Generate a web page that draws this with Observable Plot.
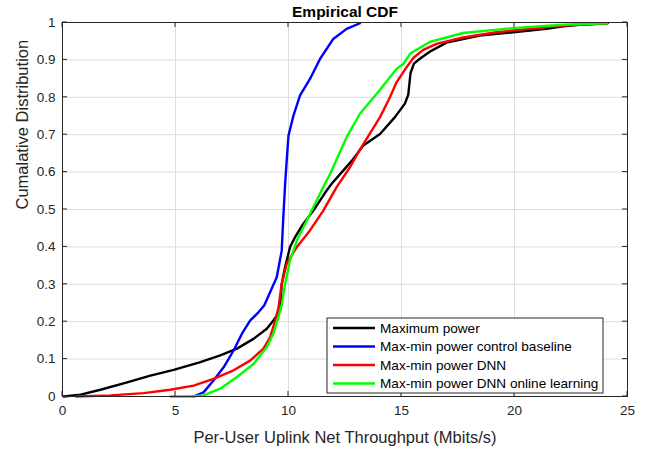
<!DOCTYPE html>
<html>
<head>
<meta charset="utf-8">
<script src="https://cdn.jsdelivr.net/npm/d3@7"></script>
<script src="https://cdn.jsdelivr.net/npm/@observablehq/plot@0.6"></script>
<style>
  html, body { margin: 0; padding: 0; background: #fff; }
  #chart { width: 649px; height: 449px; }
  text { font-family: "Liberation Sans", Arial, Helvetica, sans-serif; }
</style>
</head>
<body>
<div id="chart"></div>
<script>
const seriesNames = [
  "Maximum power",
  "Max-min power control baseline",
  "Max-min power DNN",
  "Max-min power DNN online learning"
];
const seriesColors = ["#000000", "#0000ff", "#ff0000", "#00ff00"];

const xTicks = [0, 5, 10, 15, 20, 25];
const yTicks = [0, 0.1, 0.2, 0.3, 0.4, 0.5, 0.6, 0.7, 0.8, 0.9, 1];

// Maximum power
const blackX = [0.06, 0.8, 1.68, 2.86, 3.89, 4.92, 6.10, 6.98, 7.72, 8.45, 9.04, 9.33, 9.63, 9.70, 9.85, 10.07, 10.29, 10.66, 11.1, 11.69, 11.91, 12.42, 12.8, 13.31, 14.05, 14.71, 15.15, 15.30, 15.40, 15.55, 15.81, 16.25, 16.99, 18.46, 19.93, 21.41, 22.14, 22.88, 24.13];
const blackY = [0, 0.005, 0.018, 0.038, 0.056, 0.071, 0.092, 0.11, 0.128, 0.154, 0.181, 0.203, 0.23, 0.301, 0.346, 0.40, 0.426, 0.462, 0.497, 0.551, 0.569, 0.604, 0.63, 0.671, 0.702, 0.747, 0.783, 0.807, 0.865, 0.89, 0.903, 0.922, 0.946, 0.965, 0.974, 0.983, 0.990, 0.994, 0.998];

// Max-min power control baseline
const blueX = [5.80, 6.24, 6.68, 7.13, 7.57, 7.94, 8.30, 8.67, 8.93, 9.48, 9.70, 9.77, 9.85, 9.92, 10.0, 10.22, 10.51, 10.95, 11.4, 11.98, 12.57, 13.16];
const blueY = [0, 0.011, 0.043, 0.078, 0.123, 0.168, 0.203, 0.225, 0.244, 0.319, 0.39, 0.479, 0.568, 0.630, 0.698, 0.751, 0.805, 0.849, 0.903, 0.956, 0.983, 0.998];

// Max-min power DNN
const redX = [0.6, 2.12, 3.59, 4.77, 5.80, 6.68, 7.57, 8.30, 8.89, 9.19, 9.41, 9.55, 9.70, 9.92, 10.37, 10.95, 11.54, 12.13, 12.72, 13.16, 14.05, 14.49, 14.78, 15.22, 15.52, 15.96, 16.55, 17.72, 19.2, 20.67, 22.14, 24.1];
const redY = [0, 0.003, 0.009, 0.018, 0.029, 0.047, 0.07, 0.096, 0.128, 0.159, 0.203, 0.235, 0.301, 0.355, 0.40, 0.444, 0.497, 0.56, 0.613, 0.66, 0.747, 0.80, 0.84, 0.88, 0.905, 0.927, 0.943, 0.96, 0.974, 0.983, 0.992, 0.998];

// Max-min power DNN online learning
const greenX = [4.77, 5.65, 6.24, 6.98, 7.72, 8.45, 9.04, 9.33, 9.55, 9.70, 9.85, 10.07, 10.37, 10.95, 11.54, 11.84, 12.57, 13.16, 14.05, 14.78, 15.08, 15.40, 16.25, 17.72, 19.93, 22.14, 24.1];
const greenY = [0, 0, 0.003, 0.021, 0.052, 0.087, 0.132, 0.168, 0.212, 0.245, 0.301, 0.364, 0.417, 0.488, 0.56, 0.595, 0.693, 0.756, 0.820, 0.876, 0.889, 0.918, 0.948, 0.972, 0.985, 0.994, 0.998];

const allX = [blackX, blueX, redX, greenX];
const allY = [blackY, blueY, redY, greenY];
const series = allX.map((xs, i) => xs.map((x, j) => ({x, y: allY[i][j], s: seriesNames[i]})));

const W = 649, H = 449;
const mL = 62, mR = 22, mT = 22, mB = 53;

const textColor = "#262626";
const lineMarks = series.map((d, i) => Plot.line(d, {x: "x", y: "y", stroke: seriesColors[i], strokeWidth: 2.4}));

const chart = Plot.plot({
  width: W,
  height: H,
  marginLeft: mL,
  marginRight: mR,
  marginTop: mT,
  marginBottom: mB,
  style: {fontFamily: '"Liberation Sans", Arial, Helvetica, sans-serif', fontSize: "13px", color: textColor, background: "#fff"},
  x: {domain: [0, 25], ticks: xTicks},
  y: {domain: [0, 1], ticks: yTicks},
  marks: [
    Plot.gridX(xTicks, {stroke: "#dedede", strokeOpacity: 1, strokeWidth: 1}),
    Plot.gridY(yTicks, {stroke: "#dedede", strokeOpacity: 1, strokeWidth: 1}),
    Plot.axisX(xTicks, {tickSize: 0, tickPadding: 9, label: null, fill: textColor, fontSize: 13.5}),
    Plot.axisY(yTicks, {tickSize: 0, tickPadding: 7, label: null, fill: textColor, fontSize: 13.5, tickFormat: d => String(+d.toFixed(1))}),
    ...lineMarks,
    Plot.frame({stroke: textColor, strokeWidth: 1}),
    Plot.text(["Empirical CDF"], {frameAnchor: "top", lineAnchor: "middle", dy: -10, text: d => d, fontWeight: "bold", fontSize: 15.5, fill: "#000"}),
    Plot.text(["Per-User Uplink Net Throughput (Mbits/s)"], {frameAnchor: "bottom", lineAnchor: "middle", dy: 41, text: d => d, fontSize: 16.5, fill: textColor}),
    Plot.text(["Cumalative Distribution"], {frameAnchor: "left", dx: -40, rotate: -90, text: d => d, fontSize: 16.5, fill: textColor})
  ]
});

document.getElementById("chart").appendChild(chart);

// Inward ticks (MATLAB style), derived from the scales
const svg = d3.select(chart);
const sx = chart.scale("x"), sy = chart.scale("y");
const tg = svg.append("g").attr("stroke", textColor).attr("stroke-width", 1);
xTicks.forEach(t => {
  const px = sx.apply(t);
  tg.append("line").attr("x1", px).attr("x2", px).attr("y1", H - mB).attr("y2", H - mB - 5);
  tg.append("line").attr("x1", px).attr("x2", px).attr("y1", mT).attr("y2", mT + 5);
});
yTicks.forEach(t => {
  const py = sy.apply(t);
  tg.append("line").attr("x1", mL).attr("x2", mL + 5).attr("y1", py).attr("y2", py);
  tg.append("line").attr("x1", W - mR).attr("x2", W - mR - 5).attr("y1", py).attr("y2", py);
});

// Legend
const lg = svg.append("g").attr("transform", "translate(327,318)").attr("text-anchor", "start");
lg.append("rect").attr("width", 276).attr("height", 75).attr("fill", "#fff").attr("stroke", textColor).attr("stroke-width", 1);
seriesNames.forEach((name, i) => {
  const yy = 10 + i * 18.5;
  lg.append("line").attr("x1", 6).attr("x2", 48).attr("y1", yy).attr("y2", yy).attr("stroke", seriesColors[i]).attr("stroke-width", 2.4);
  lg.append("text").attr("x", 53).attr("y", yy).attr("dy", "0.35em").attr("text-anchor", "start").attr("font-size", 13.6).attr("fill", "#000").text(name);
});
</script>
</body>
</html>
